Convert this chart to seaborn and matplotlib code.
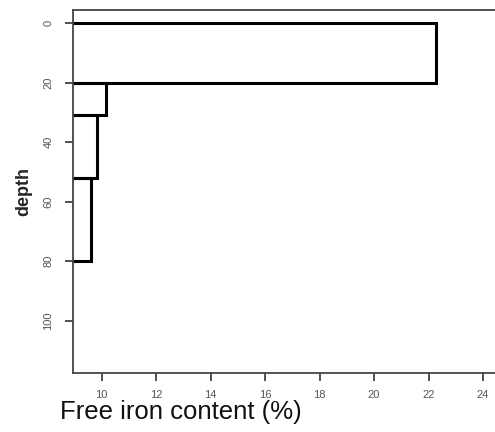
import matplotlib
matplotlib.use('Agg')
from matplotlib import pyplot as plt
import seaborn as sns
import pandas as pd

# depth intervals (cm) and free iron content (%) per horizon
depth_top = [0, 20, 31, 52]
depth_bottom = [20, 31, 52, 80]
iron = [22.27, 10.16, 9.82, 9.6]

x_ticks = [10, 12, 14, 16, 18, 20, 22, 24]
y_ticks = [0, 20, 40, 60, 80, 100]

data = pd.DataFrame({
	'depth': [(t + b) / 2 for t, b in zip(depth_top, depth_bottom)],
	'iron': iron,
})

sns.set_style('white')
plt.rcParams['font.family'] = ['Liberation Sans', 'DejaVu Sans']

fig = plt.figure(figsize=(4.95, 4.32), dpi=100)
ax = fig.add_axes([0.1475, 0.1366, 1 - 0.1475, 0.977 - 0.1366])

sns.histplot(data=data, y='depth', weights='iron', bins=depth_top + depth_bottom[-1:],
			 fill=False, color='black', linewidth=2.2, ax=ax)

ax.set_xlim(8.95, 24.44)
ax.set_ylim(117.6, -4.4)
ax.set_xticks(x_ticks)
ax.set_yticks(y_ticks)
ax.set_yticklabels([str(v) for v in y_ticks], rotation=90, va='center')
ax.tick_params(axis='both', which='both', direction='out', length=6, width=1.2,
			   color='#333333', labelsize=8, labelcolor='#555555',
			   left=True, bottom=True)
ax.tick_params(axis='x', pad=6)
ax.tick_params(axis='y', pad=8)

for side in ['left', 'bottom', 'top']:
	ax.spines[side].set_color('#444444')
	ax.spines[side].set_linewidth(1.3)
ax.spines['right'].set_visible(False)

ax.set_xlabel('')
ax.set_ylabel('depth', fontsize=13, fontweight='bold', labelpad=8)
fig.text(60 / 495, 1 - 419 / 432, 'Free iron content (%)', fontsize=18.5,
		 ha='left', va='baseline', color='#111111')

fig.savefig('out.png', dpi=100)
